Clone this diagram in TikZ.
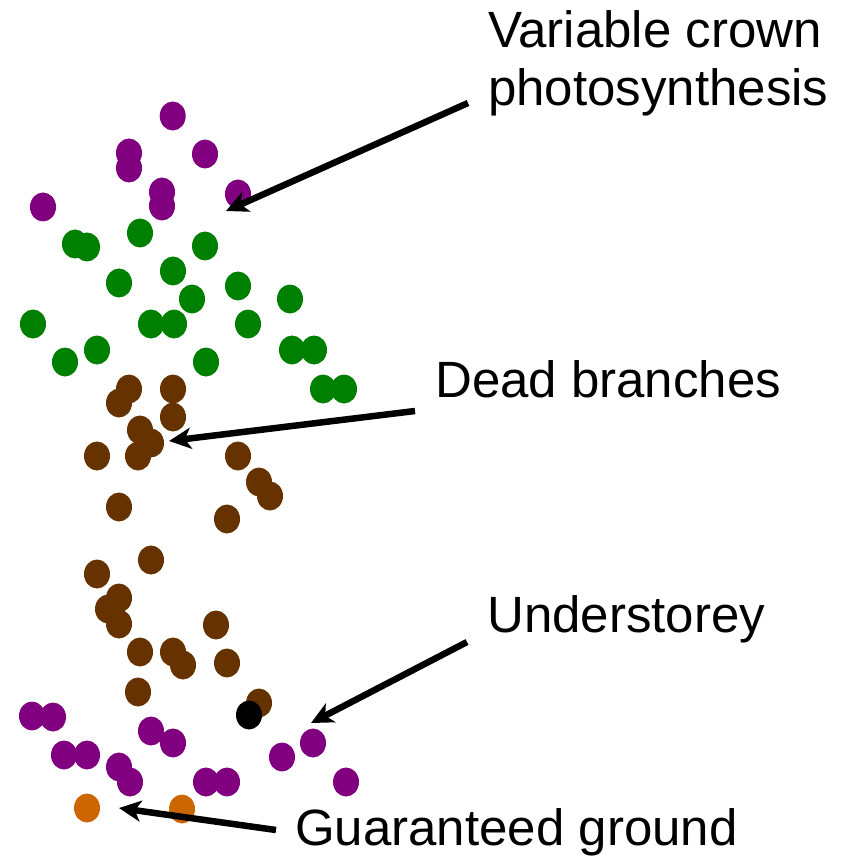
\documentclass[tikz,border=0pt]{standalone}
\usepackage{fontspec}
\setmainfont{Liberation Sans}
\usetikzlibrary{shapes.geometric,arrows.meta}

\definecolor{crownpurple}{HTML}{800080}
\definecolor{leafgreen}{HTML}{008000}
\definecolor{deadbrown}{HTML}{663300}
\definecolor{groundorange}{HTML}{CC6600}

\begin{document}
\begin{tikzpicture}[
	x=1pt, y=-1pt,
	dot/.style={ ellipse, fill, inner sep=0pt, minimum width=26pt, minimum height=29pt },
	dotp/.style={ dot, crownpurple },
	dotg/.style={ dot, leafgreen },
	dotb/.style={ dot, deadbrown },
	doto/.style={ dot, groundorange },
	label/.style={ anchor=base west, inner sep=0pt, align=left, font=\fontsize{51}{58}\selectfont },
	pointer/.style={ line width=6.5pt, -{Stealth[length=22pt,width=21pt,inset=6pt]} }
]
\useasboundingbox (0,0) rectangle (856,858);

% crown
\foreach \x/\y [count=\i] in {172.7/116,129/153,129/168,205/154,162/192,162/206,238/194,43/207}
	\node[dotp] at (\x,\y) (c\i) {};
% leaves
\foreach \x/\y [count=\i] in {75/244,87/247,140/233,205/246,173/271,119/283,192/299,238/286,290/299,33/324,151/324,174/324,248/324,97/350,65/362,206/362,292/350,314/350,323/389,344/389}
	\node[dotg] at (\x,\y) (g\i) {};
% dead branches
\foreach \x/\y [count=\i] in {129/389,119/403,173/389,173/417,140/430,151/443,138/456,97/456,238/456,259/482,270/496,119/507,227/519,151/560,97/574,119/598,108/609,119/624,216/625,140/652,173/652,183/665,227/663,138/692,259/703}
	\node[dotb] at (\x,\y) (b\i) {};
\node[dot, black] at (249,715) (k1) {};
% understorey
\foreach \x/\y [count=\i] in {32/716,53/717,64/755,87/755,119/767,130/782,151/731,173/743,206/782,227/782,282/757,313/743,346/782}
	\node[dotp] at (\x,\y) (u\i) {};
% ground
\node[doto] at (87,808) (o1) {};
\node[doto] at (182,809) (o2) {};

\node[label] at (488,106) (lcrown) {Variable crown\\photosynthesis};
\node[label] at (435,397) (ldead) {Dead branches};
\node[label] at (487,632) (lunder) {Understorey};
\node[label] at (295,845) (lground) {Guaranteed ground};

\coordinate (s1) at (468,103);  \coordinate (t1) at (226,211);
\coordinate (s2) at (415,411);  \coordinate (t2) at (169,441);
\coordinate (s3) at (467,642);  \coordinate (t3) at (311,723);
\coordinate (s4) at (276,830);  \coordinate (t4) at (119,808);
\foreach \i in {1,...,4} \draw[pointer] (s\i) -- (t\i);

\end{tikzpicture}
\end{document}
